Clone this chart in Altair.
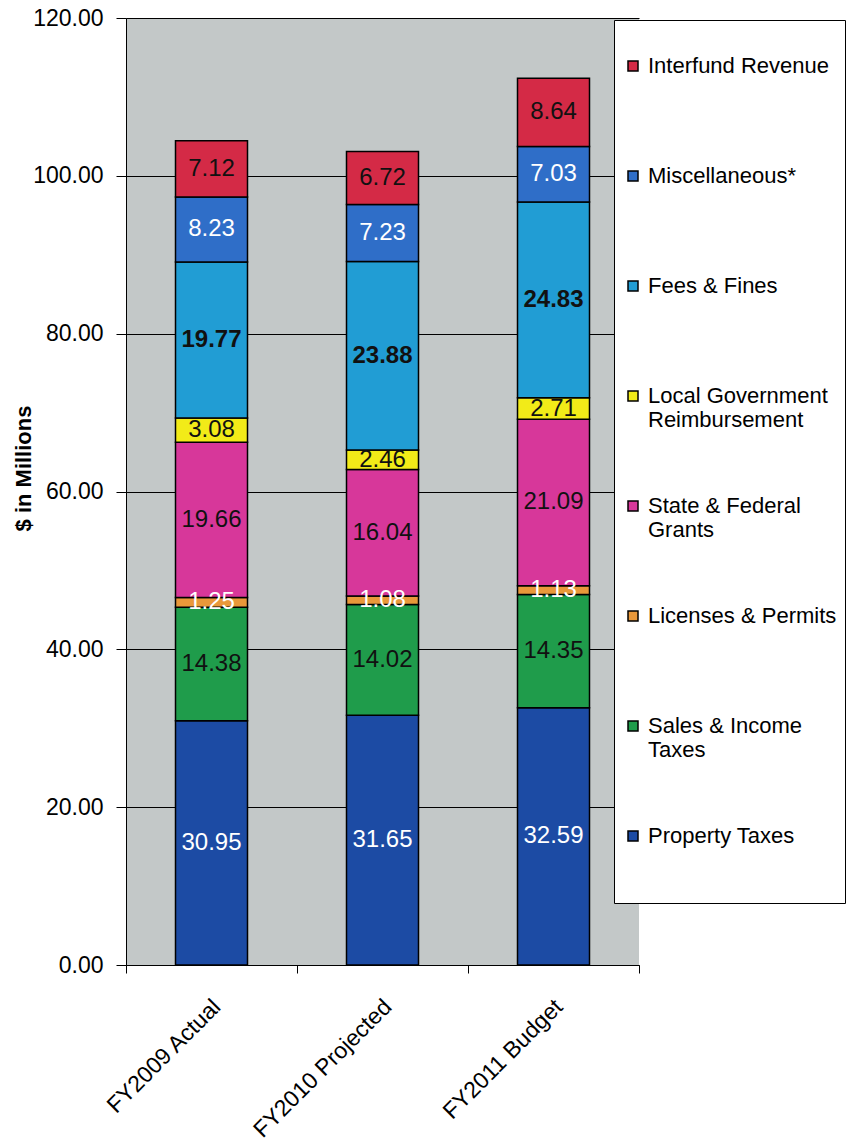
import altair as alt
import pandas as pd

# Fiscal years (x categories)
years = ["FY2009 Actual", "FY2010 Projected", "FY2011 Budget"]

# Revenue sources, listed bottom of the stack to top
sources = [
    "Property Taxes",
    "Sales & Income Taxes",
    "Licenses & Permits",
    "State & Federal Grants",
    "Local Government Reimbursement",
    "Fees & Fines",
    "Miscellaneous*",
    "Interfund Revenue",
]

# $ in millions per source, one value per fiscal year
property_taxes = [30.95, 31.65, 32.59]
sales_income_taxes = [14.38, 14.02, 14.35]
licenses_permits = [1.25, 1.08, 1.13]
state_federal_grants = [19.66, 16.04, 21.09]
local_gov_reimbursement = [3.08, 2.46, 2.71]
fees_fines = [19.77, 23.88, 24.83]
miscellaneous = [8.23, 7.23, 7.03]
interfund_revenue = [7.12, 6.72, 8.64]

series = [
    property_taxes,
    sales_income_taxes,
    licenses_permits,
    state_federal_grants,
    local_gov_reimbursement,
    fees_fines,
    miscellaneous,
    interfund_revenue,
]

colors = [
    "#1c4ba4",  # Property Taxes
    "#1f9c4b",  # Sales & Income Taxes
    "#e9983a",  # Licenses & Permits
    "#d7379a",  # State & Federal Grants
    "#f2eb18",  # Local Government Reimbursement
    "#219dd4",  # Fees & Fines
    "#2f6ec8",  # Miscellaneous*
    "#d42a46",  # Interfund Revenue
]

y_ticks = [0, 20, 40, 60, 80, 100, 120]

rows = []
for i, (src, vals) in enumerate(zip(sources, series)):
    for yr, v in zip(years, vals):
        rows.append({"year": yr, "source": src, "value": v, "order": i})
df = pd.DataFrame(rows)

legend_order = list(reversed(sources))
legend_colors = list(reversed(colors))

FONT = "Liberation Sans"

# legend entries all take three text lines so every row has the same height
label_expr = (
    "datum.label == 'Local Government Reimbursement' ? ['Local Government', 'Reimbursement', ''] : "
    "datum.label == 'State & Federal Grants' ? ['State & Federal', 'Grants', ''] : "
    "datum.label == 'Sales & Income Taxes' ? ['Sales & Income', 'Taxes', ''] : "
    "[datum.label, '', '']"
)

base = alt.Chart(df).transform_stack(
    stack="value",
    groupby=["year"],
    sort=[alt.SortField("order", order="ascending")],
    as_=["y0", "y1"],
).transform_calculate(mid="(datum.y0 + datum.y1) / 2")

x_scale = alt.Scale(paddingInner=0, paddingOuter=0)

x_enc = alt.X(
    "year:N",
    sort=years,
    scale=x_scale,
    axis=alt.Axis(
        title="",
        labelAngle=315,
        labelAlign="right",
        labelBaseline="middle",
        labelFontSize=23,
        labelFont=FONT,
        labelColor="black",
        labelLimit=400,
        labelPadding=30,
        labelOffset=5,
        tickBand="extent",
        tickSize=8,
        tickColor="black",
        domainColor="black",
        grid=False,
    ),
)

bars = base.mark_bar(stroke="black", strokeWidth=1.5, width=72).encode(
    x=x_enc,
    y=alt.Y(
        "y0:Q",
        scale=alt.Scale(domain=[0, 120], nice=False),
        axis=alt.Axis(
            values=y_ticks,
            format=".2f",
            labelFontSize=23,
            labelFont=FONT,
            labelColor="black",
            labelPadding=13,
            tickSize=10,
            tickColor="black",
            domainColor="black",
            gridColor="black",
            gridWidth=1,
            title="$ in Millions",
            titleFont=FONT,
            titleFontSize=22,
            titleFontWeight="bold",
            titleColor="black",
            titleAngle=270,
            titleX=-103,
            titleY=450,
            titleAlign="center",
            titleBaseline="middle",
        ),
    ),
    y2="y1:Q",
    color=alt.Color(
        "source:N",
        scale=alt.Scale(domain=legend_order, range=legend_colors),
        legend=alt.Legend(
            orient="none",
            legendX=488,
            legendY=2,
            fillColor="white",
            strokeColor="black",
            padding=8,
            title=" ",
            titleFontSize=10,
            titlePadding=17,
            symbolType="square",
            symbolSize=100,
            symbolStrokeColor="black",
            symbolStrokeWidth=1.5,
            labelFont=FONT,
            labelFontSize=22,
            labelColor="black",
            labelOffset=4,
            labelLimit=260,
            rowPadding=40,
            labelExpr=label_expr,
        ),
    ),
    order=alt.Order("order:Q"),
)

text_enc = dict(
    x=alt.X("year:N", sort=years, scale=x_scale),
    y=alt.Y("mid:Q"),
    text=alt.Text("value:Q", format=".2f"),
)

white_labels = base.transform_filter(
    alt.FieldOneOfPredicate(
        field="source", oneOf=["Property Taxes", "Licenses & Permits", "Miscellaneous*"]
    )
).mark_text(font=FONT, fontSize=24, color="white", baseline="middle").encode(**text_enc)

dark_labels = base.transform_filter(
    alt.FieldOneOfPredicate(
        field="source",
        oneOf=[
            "Sales & Income Taxes",
            "State & Federal Grants",
            "Local Government Reimbursement",
            "Interfund Revenue",
        ],
    )
).mark_text(font=FONT, fontSize=24, color="#111111", baseline="middle").encode(**text_enc)

bold_labels = base.transform_filter(
    alt.FieldEqualPredicate(field="source", equal="Fees & Fines")
).mark_text(
    font=FONT, fontSize=24, fontWeight="bold", color="#111111", baseline="middle"
).encode(**text_enc)

chart = (
    alt.layer(bars, white_labels, dark_labels, bold_labels)
    .properties(
        width=513,
        height=947,
        padding={"left": 126, "top": 18, "right": 207, "bottom": 181},
        autosize=alt.AutoSizeParams(type="none"),
        background="white",
    )
    .configure_view(fill="#c3c8c8", strokeWidth=0)
)

chart.save("out.html", embed_options={"renderer": "svg", "actions": False})
